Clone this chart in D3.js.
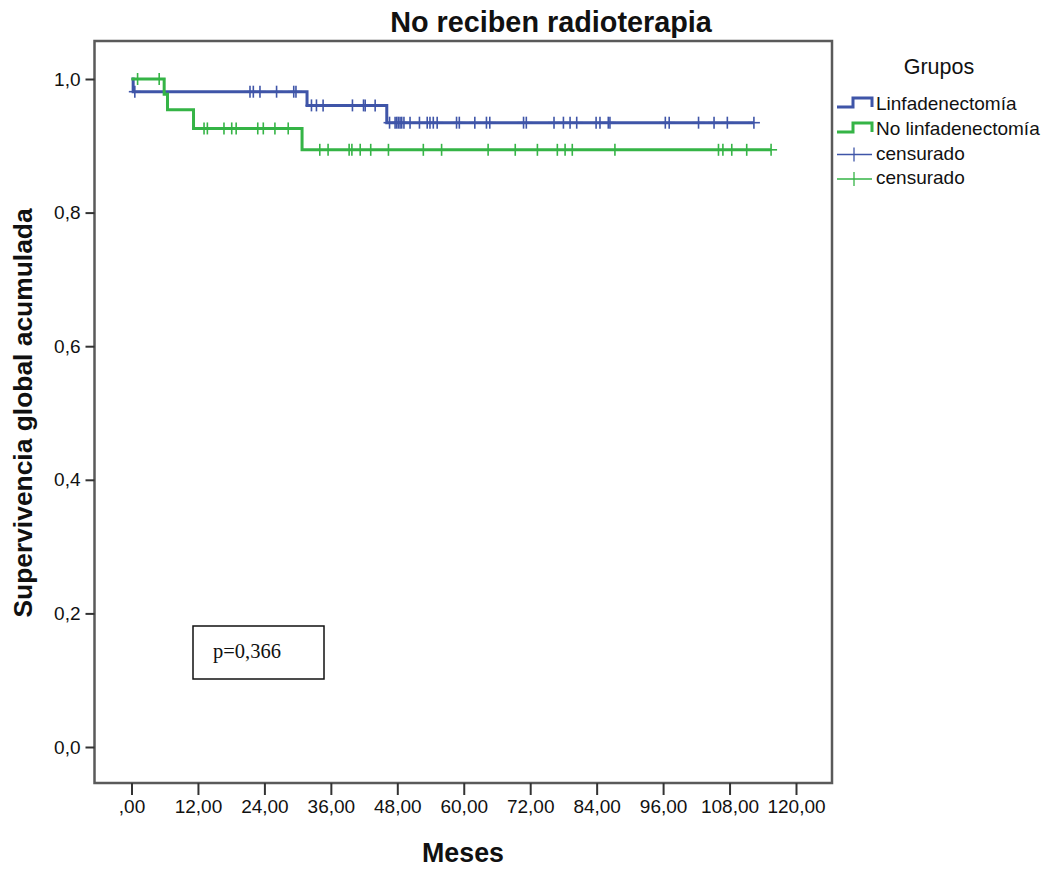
<!DOCTYPE html>
<html><head><meta charset="utf-8">
<script src="https://cdn.jsdelivr.net/npm/d3@7"></script>
<style>body{margin:0;background:#fff}svg{display:block}</style>
</head><body>
<svg id="c" width="1053" height="869"></svg>
<script>
// ---- data ----
const chartTitle = "No reciben radioterapia";
const xTitle = "Meses";
const yTitle = "Supervivencia global acumulada";
const xTicks = [0, 12, 24, 36, 48, 60, 72, 84, 96, 108, 120];
const xTickLabels = [",00","12,00","24,00","36,00","48,00","60,00","72,00","84,00","96,00","108,00","120,00"];
const yTicks = [0, 0.2, 0.4, 0.6, 0.8, 1.0];
const yTickLabels = ["0,0","0,2","0,4","0,6","0,8","1,0"];

const groupNames = ["Linfadenectomía", "No linfadenectomía"];
const censorName = "censurado";
const legendTitle = "Grupos";
const pText = "p=0,366";

// Linfadenectomía (blue)
const blueStepTimes = [0, 0.3, 31.7, 46.1];
const blueStepSurv  = [1.0, 0.981, 0.9605, 0.9346];
const blueEnd = 112.4;
const blueCensor = [0.6, 21.4, 22.0, 23.2, 26.2, 29.3, 29.7, 32.5, 33.4, 34.6, 39.9, 41.9, 42.2, 44.0,
  46.6, 47.6, 47.9, 48.2, 48.5, 48.8, 49.2, 50.3, 52.0, 53.4, 53.9, 54.5, 55.2, 58.7, 59.2, 62.0,
  64.1, 64.7, 70.8, 71.3, 76.3, 78.0, 79.2, 80.4, 83.9, 84.6, 86.1, 86.4, 96.4, 97.1, 102.4, 105.2,
  107.6, 112.4];

// No linfadenectomía (green)
const greenStepTimes = [0, 5.9, 6.5, 11.2, 30.8];
const greenStepSurv  = [1.0, 0.977, 0.954, 0.926, 0.894];
const greenEnd = 115.5;
const greenCensor = [1.1, 5.0, 13.1, 13.7, 16.7, 18.1, 18.9, 22.8, 23.8, 25.9, 28.3, 34.0, 35.5,
  39.3, 39.8, 41.3, 43.2, 46.4, 52.7, 56.0, 64.4, 69.3, 73.3, 76.9, 78.3, 79.6, 87.3, 106.0,
  106.8, 108.4, 111.1, 115.5];

// ---- styling / layout ----
const BLUE = "#3f55a8", GREEN = "#35b446";
const FONT = "'Liberation Sans', Arial, sans-serif";
const frame = {left: 94.5, top: 41, right: 832, bottom: 783};

const svg = d3.select("#c");
const x = d3.scaleLinear().domain([0, 120]).range([131.5, 796]);
const y = d3.scaleLinear().domain([0, 1]).range([747, 79]);

// frame
svg.append("rect")
  .attr("x", frame.left).attr("y", frame.top)
  .attr("width", frame.right - frame.left).attr("height", frame.bottom - frame.top)
  .attr("fill", "none").attr("stroke", "#5a5a5a").attr("stroke-width", 2.5);

// x axis
const xAxis = d3.axisBottom(x).tickValues(xTicks)
  .tickFormat((d, i) => xTickLabels[i]).tickSizeOuter(0).tickSize(12).tickPadding(5);
const gx = svg.append("g").attr("transform", `translate(0,${frame.bottom})`).call(xAxis);
gx.select(".domain").remove();
gx.selectAll(".tick line").attr("stroke", "#333").attr("stroke-width", 2);
gx.selectAll(".tick text").attr("font-family", FONT).attr("font-size", 19).attr("fill", "#111");

// y axis
const yAxis = d3.axisLeft(y).tickValues(yTicks)
  .tickFormat((d, i) => yTickLabels[i]).tickSizeOuter(0).tickSize(9).tickPadding(5);
const gy = svg.append("g").attr("transform", `translate(${frame.left},0)`).call(yAxis);
gy.select(".domain").remove();
gy.selectAll(".tick line").attr("stroke", "#333").attr("stroke-width", 2);
gy.selectAll(".tick text").attr("font-family", FONT).attr("font-size", 19).attr("fill", "#111");

// titles
svg.append("text").attr("x", 551).attr("y", 32).attr("text-anchor", "middle")
  .attr("font-family", FONT).attr("font-weight", "bold").attr("font-size", 28.8).attr("fill", "#111")
  .text(chartTitle);
svg.append("text").attr("x", 463).attr("y", 862).attr("text-anchor", "middle")
  .attr("font-family", FONT).attr("font-weight", "bold").attr("font-size", 26.8).attr("fill", "#111")
  .text(xTitle);
svg.append("text").attr("transform", "translate(32,413) rotate(-90)").attr("text-anchor", "middle")
  .attr("font-family", FONT).attr("font-weight", "bold").attr("font-size", 26.4).attr("fill", "#111")
  .text(yTitle);

// KM curves
function survAt(times, surv, t) {
  let s = surv[0];
  for (let i = 0; i < times.length; i++) if (times[i] <= t) s = surv[i];
  return s;
}
const line = d3.line().x(d => x(d[0])).y(d => y(d[1])).curve(d3.curveStepAfter);
function drawGroup(times, surv, end, censor, color) {
  const pts = times.map((t, i) => [t, surv[i]]);
  pts.push([end, surv[surv.length - 1]]);
  svg.append("path").datum(pts).attr("d", line)
    .attr("fill", "none").attr("stroke", color).attr("stroke-width", 3).attr("stroke-linejoin", "miter");
  const g = svg.append("g").attr("stroke", color).attr("stroke-width", 1.6);
  censor.forEach(t => {
    const cx = x(t), cy = y(survAt(times, surv, t));
    g.append("line").attr("x1", cx - 6).attr("x2", cx + 6).attr("y1", cy).attr("y2", cy);
    g.append("line").attr("x1", cx).attr("x2", cx).attr("y1", cy - 6).attr("y2", cy + 6);
  });
}
drawGroup(blueStepTimes, blueStepSurv, blueEnd, blueCensor, BLUE);
drawGroup(greenStepTimes, greenStepSurv, greenEnd, greenCensor, GREEN);

// legend
const lg = svg.append("g");
lg.append("text").attr("x", 939).attr("y", 74).attr("text-anchor", "middle")
  .attr("font-family", FONT).attr("font-size", 21.5).attr("fill", "#111").text(legendTitle);
const rows = [
  {label: groupNames[0], color: BLUE, type: "step", base: 110},
  {label: groupNames[1], color: GREEN, type: "step", base: 135},
  {label: censorName, color: BLUE, type: "cross", base: 159.5},
  {label: censorName, color: GREEN, type: "cross", base: 184}
];
rows.forEach(r => {
  if (r.type === "step") {
    lg.append("path").attr("d", `M837,${r.base - 3}H853V${r.base - 12}H872V${r.base - 3}`)
      .attr("fill", "none").attr("stroke", r.color).attr("stroke-width", 3);
  } else {
    lg.append("line").attr("x1", 837).attr("x2", 872).attr("y1", r.base - 5).attr("y2", r.base - 5)
      .attr("stroke", r.color).attr("stroke-width", 1.3);
    lg.append("line").attr("x1", 854).attr("x2", 854).attr("y1", r.base - 12).attr("y2", r.base + 2)
      .attr("stroke", r.color).attr("stroke-width", 1.3);
  }
  lg.append("text").attr("x", 876).attr("y", r.base).attr("font-family", FONT)
    .attr("font-size", 19).attr("fill", "#111").text(r.label);
});

// p-value box
svg.append("rect").attr("x", 193).attr("y", 626).attr("width", 131).attr("height", 53)
  .attr("fill", "#fff").attr("stroke", "#111").attr("stroke-width", 1.5);
svg.append("text").attr("x", 213).attr("y", 658)
  .attr("font-family", "'Liberation Serif', 'Times New Roman', serif").attr("font-size", 20.5)
  .attr("fill", "#111").text(pText);
</script>
</body></html>
